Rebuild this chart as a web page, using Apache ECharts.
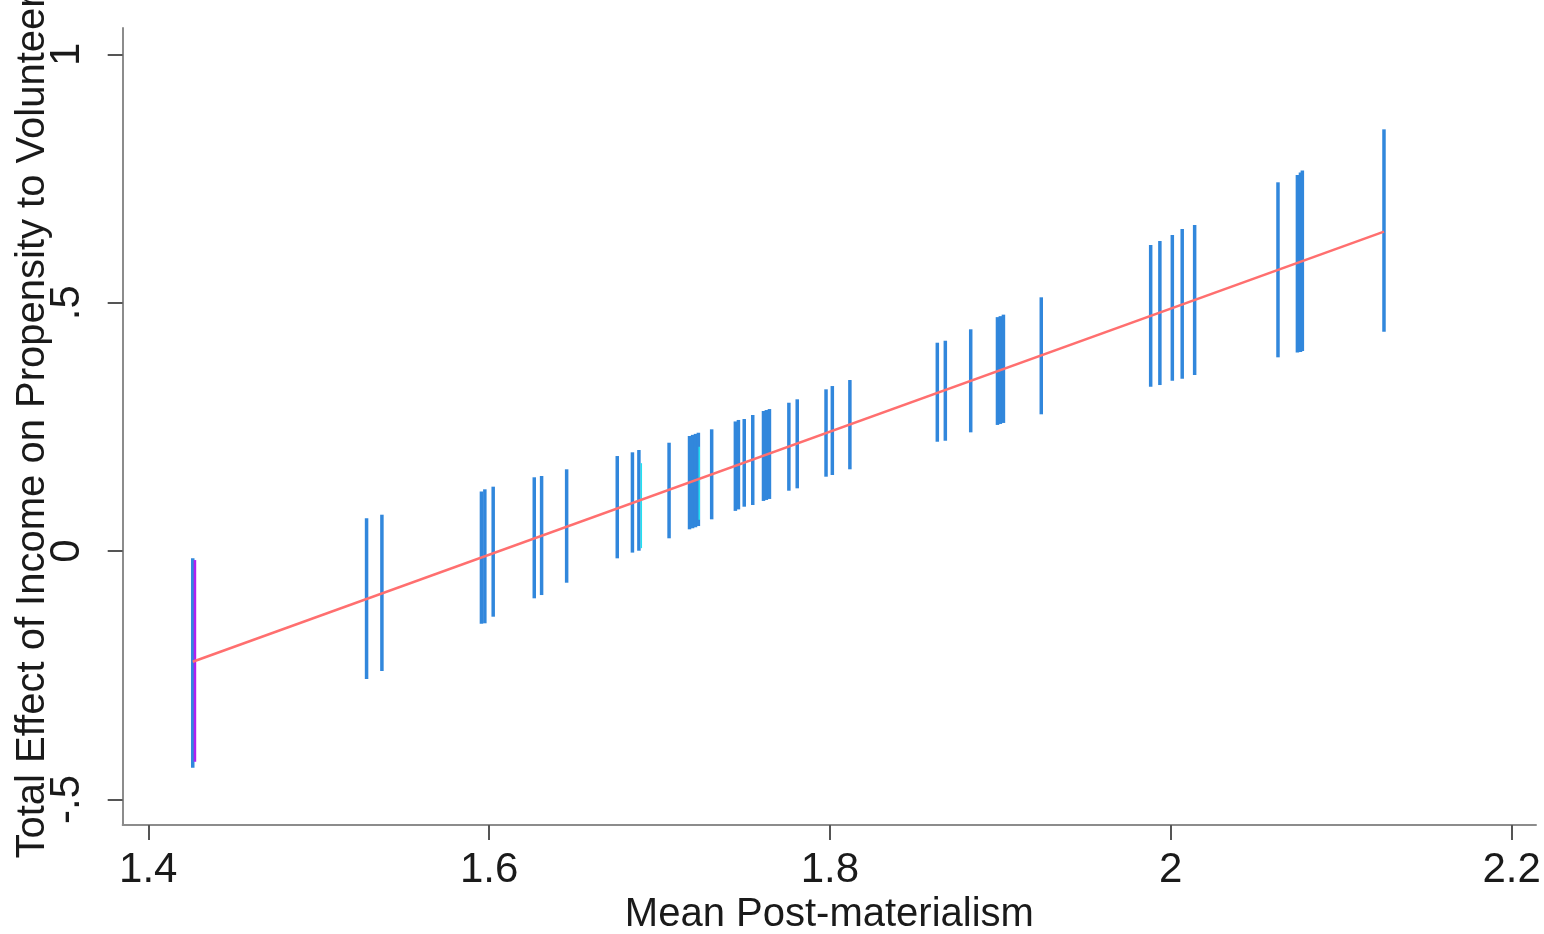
<!DOCTYPE html>
<html>
<head>
<meta charset="utf-8">
<script src="https://cdn.jsdelivr.net/npm/echarts@6/dist/echarts.min.js"></script>
<style>
html,body{margin:0;padding:0;background:#fff;}
#c{width:1544px;height:934px;}
</style>
</head>
<body>
<div id="c"></div>
<script>
// Confidence-interval bars (blue)
const ciX    = [1.4261, 1.5281, 1.5371, 1.5955, 1.5975, 1.6024, 1.6265, 1.6308, 1.6455, 1.6752, 1.6841, 1.6879, 1.7056,
                1.7176, 1.7194, 1.7211, 1.7228, 1.7306, 1.7445, 1.7463, 1.7497, 1.7547, 1.7610, 1.7627, 1.7645,
                1.7759, 1.7808, 1.7977, 1.8014, 1.8117, 1.8630, 1.8677, 1.8826, 1.8983, 1.9000, 1.9018, 1.9240,
                1.9882, 1.9936, 2.0009, 2.0067, 2.0140, 2.0629, 2.0743, 2.0761, 2.0772, 2.1251];
const ciHigh = [-0.0145, 0.0660, 0.0733, 0.1200, 0.1244, 0.1297, 0.1486, 0.1512, 0.1647, 0.1914, 0.1989, 0.2035, 0.2182,
                0.2317, 0.2340, 0.2360, 0.2383, 0.2452, 0.2610, 0.2640, 0.2659, 0.2740, 0.2820, 0.2840, 0.2860,
                0.2987, 0.3056, 0.3257, 0.3323, 0.3444, 0.4195, 0.4235, 0.4465, 0.4710, 0.4730, 0.4760, 0.5109,
                0.6161, 0.6242, 0.6363, 0.6484, 0.6564, 0.7424, 0.7570, 0.7620, 0.7660, 0.8490];
const ciLow  = [-0.4360, -0.2575, -0.2413, -0.1460, -0.1453, -0.1320, -0.0950, -0.0884, -0.0636, -0.0145, -0.0030, 0.0008, 0.0258,
                0.0439, 0.0460, 0.0480, 0.0505, 0.0640, 0.0810, 0.0840, 0.0894, 0.0928, 0.1010, 0.1030, 0.1050,
                0.1216, 0.1264, 0.1498, 0.1532, 0.1647, 0.2202, 0.2222, 0.2391, 0.2540, 0.2560, 0.2580, 0.2754,
                0.3309, 0.3343, 0.3430, 0.3470, 0.3545, 0.3901, 0.4000, 0.4010, 0.4030, 0.4416];
// Overlapping magenta interval
const magX = [1.4274];
const magHigh = [-0.018];
const magLow = [-0.424];
// Overlapping cyan intervals
const cyanX = [1.6893, 1.7233];
const cyanHigh = [0.177, 0.210];
const cyanLow = [0.006, 0.063];
// Fitted line
const fitX = [1.4261, 2.1251];
const fitY = [-0.2226, 0.6430];
// Tick labels
const xTicks = [1.4, 1.6, 1.8, 2.0, 2.2];
const yTicks = [-0.5, 0, 0.5, 1];

const FONT = "'Liberation Sans', Arial, sans-serif";

function ciSeries(xs, lo, hi, color, w) {
  return {
    type: 'custom',
    data: xs.map((x, i) => [x, lo[i], hi[i]]),
    renderItem: function (params, api) {
      const a = api.coord([api.value(0), api.value(1)]);
      const b = api.coord([api.value(0), api.value(2)]);
      return {
        type: 'line',
        shape: {x1: a[0], y1: a[1], x2: b[0], y2: b[1]},
        style: {stroke: color, lineWidth: w}
      };
    },
    silent: true,
    z: 2
  };
}

const chart = echarts.init(document.getElementById('c'), null, {renderer: 'canvas'});
chart.setOption({
  animation: false,
  backgroundColor: '#ffffff',
  grid: {left: 122.7, right: 8, top: 28, bottom: 109, containLabel: false, outerBoundsMode: 'none'},
  xAxis: {
    type: 'value',
    min: 1.385, max: 2.2143,
    name: 'Mean Post-materialism',
    nameLocation: 'middle',
    nameGap: 70,
    nameMoveOverlap: false,
    nameTextStyle: {fontFamily: FONT, fontSize: 40, color: '#1a1a1a'},
    axisLine: {show: true, onZero: false, lineStyle: {color: '#8c8c8c', width: 2}},
    axisTick: {show: true, length: 15, lineStyle: {color: '#555', width: 2}, customValues: xTicks},
    axisLabel: {fontFamily: FONT, fontSize: 42, color: '#1a1a1a', margin: 24, customValues: xTicks,
                formatter: v => String(+v.toFixed(2))},
    splitLine: {show: false}
  },
  yAxis: {
    type: 'value',
    min: -0.5513, max: 1.053,
    name: 'Total Effect of Income on Propensity to Volunteer',
    nameLocation: 'middle',
    nameGap: 70,
    nameRotate: 90,
    nameMoveOverlap: false,
    nameTextStyle: {fontFamily: FONT, fontSize: 40, color: '#1a1a1a'},
    axisLine: {show: true, onZero: false, lineStyle: {color: '#8c8c8c', width: 2}},
    axisTick: {show: true, length: 15, lineStyle: {color: '#555', width: 2}, customValues: yTicks},
    axisLabel: {fontFamily: FONT, fontSize: 42, color: '#1a1a1a', margin: 34, rotate: 90, customValues: yTicks,
                formatter: v => (v === 0 ? '0' : String(+v.toFixed(2)).replace('0.', '.'))},
    splitLine: {show: false}
  },
  series: [
    ciSeries(ciX, ciLow, ciHigh, '#3187dc', 3.5),
    ciSeries(magX, magLow, magHigh, '#b020f0', 2.5),
    ciSeries(cyanX, cyanLow, cyanHigh, '#22e0f0', 1.5),
    {
      type: 'line',
      data: fitX.map((x, i) => [x, fitY[i]]),
      showSymbol: false,
      lineStyle: {color: '#ff6f6f', width: 2.5},
      silent: true,
      z: 3
    }
  ]
});
</script>
</body>
</html>
